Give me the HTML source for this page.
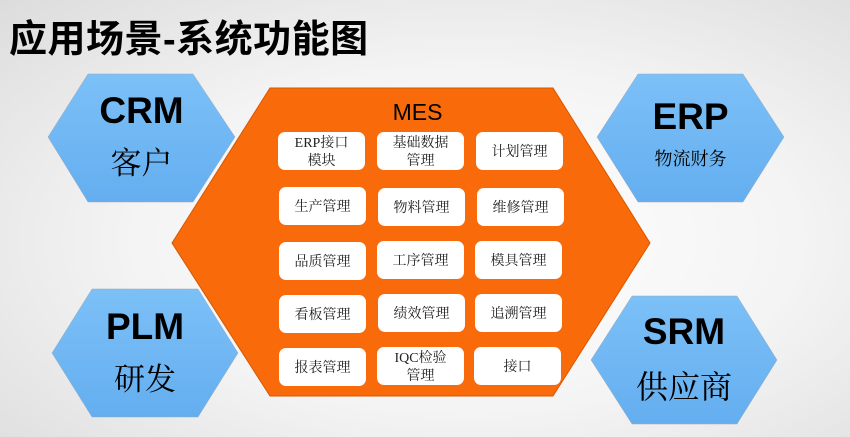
<!DOCTYPE html>
<html><head><meta charset="utf-8"><style>
body{margin:0;width:850px;height:437px;overflow:hidden;background:radial-gradient(ellipse at 55% 55%,#ffffff 0%,#f4f4f4 50%,#dcdcdc 100%);font-family:"Liberation Sans","Noto Sans CJK SC",sans-serif;position:relative}
.t{position:absolute;left:9px;top:8px;font-size:38px;font-weight:bold;color:#000;letter-spacing:0.5px}
.b{position:absolute;width:87px;height:38px;box-sizing:border-box;padding-top:4px;background:#fff;border-radius:7px;display:flex;align-items:center;justify-content:center;text-align:center;font-family:"Liberation Serif","Noto Serif CJK SC",serif;font-size:14px;line-height:18px;color:#222}
.l{position:absolute;text-align:center;color:#000}
</style></head><body>
<div class="t">应用场景-系统功能图</div>
<svg width="850" height="437" style="position:absolute;left:0;top:0">
<defs>
<linearGradient id="bl" x1="0" y1="0" x2="0" y2="1"><stop offset="0" stop-color="#7cc0f7"/><stop offset="1" stop-color="#64aef0"/></linearGradient>
</defs>
<g stroke="#9ab" stroke-width="0.5" fill="url(#bl)">
<polygon points="88,74 193,74 235,137 193,202 88,202 48,137"/>
<polygon points="92,289 198,289 238,353 198,417 92,417 52,353"/>
<polygon points="638,74 743,74 784,137 743,202 638,202 597,137"/>
<polygon points="632,296 737,296 777,360 737,424 632,424 591,360"/>
</g>
<polygon points="270,88 553,88 650,243 553,396 270,396 172,243" fill="#f86a0a" stroke="#d85800" stroke-width="1"/>
</svg>
<div class="l" style="left:48px;width:187px;top:90px;font-size:37px;font-weight:bold">CRM</div>
<div class="l" style="left:48px;width:187px;top:138px;font-size:31px;font-family:'Liberation Serif','Noto Serif CJK SC',serif">客户</div>
<div class="l" style="left:52px;width:186px;top:306px;font-size:37px;font-weight:bold">PLM</div>
<div class="l" style="left:52px;width:186px;top:354px;font-size:31px;font-family:'Liberation Serif','Noto Serif CJK SC',serif">研发</div>
<div class="l" style="left:597px;width:187px;top:96px;font-size:37px;font-weight:bold">ERP</div>
<div class="l" style="left:597px;width:187px;top:145px;font-size:18px;font-family:'Liberation Serif','Noto Serif CJK SC',serif">物流财务</div>
<div class="l" style="left:591px;width:186px;top:311px;font-size:37px;font-weight:bold">SRM</div>
<div class="l" style="left:591px;width:186px;top:362px;font-size:32px;font-family:'Liberation Serif','Noto Serif CJK SC',serif">供应商</div>
<div class="l" style="left:360px;width:115px;top:99px;font-size:23px">MES</div>
<div class="b" style="left:278px;top:132px">ERP接口<br>模块</div>
<div class="b" style="left:377px;top:132px">基础数据<br>管理</div>
<div class="b" style="left:476px;top:132px">计划管理</div>
<div class="b" style="left:279px;top:187px">生产管理</div>
<div class="b" style="left:378px;top:188px">物料管理</div>
<div class="b" style="left:477px;top:188px">维修管理</div>
<div class="b" style="left:279px;top:242px">品质管理</div>
<div class="b" style="left:377px;top:241px">工序管理</div>
<div class="b" style="left:475px;top:241px">模具管理</div>
<div class="b" style="left:279px;top:295px">看板管理</div>
<div class="b" style="left:378px;top:294px">绩效管理</div>
<div class="b" style="left:475px;top:294px">追溯管理</div>
<div class="b" style="left:279px;top:348px">报表管理</div>
<div class="b" style="left:377px;top:347px">IQC检验<br>管理</div>
<div class="b" style="left:474px;top:347px">接口</div>
</body></html>
